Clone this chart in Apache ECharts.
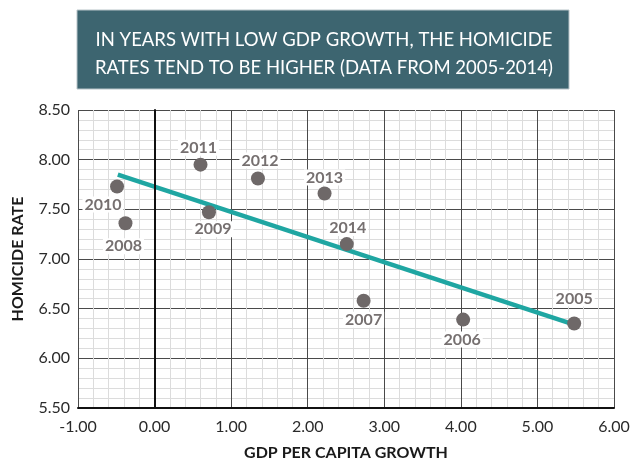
<!DOCTYPE html>
<html>
<head>
<meta charset="utf-8">
<script src="https://cdn.jsdelivr.net/npm/echarts@6/dist/echarts.min.js"></script>
<style>
  html, body { margin: 0; padding: 0; background: #fff; }
  #chart { width: 630px; height: 459px; }
</style>
</head>
<body>
<div id="chart"></div>
<script>
// data
const years = ["2005", "2006", "2007", "2008", "2009", "2010", "2011", "2012", "2013", "2014"];
const gdpGrowth = [5.48, 4.03, 2.73, -0.38, 0.71, -0.49, 0.60, 1.35, 2.22, 2.51];
const homicideRate = [6.35, 6.39, 6.58, 7.36, 7.47, 7.73, 7.95, 7.81, 7.66, 7.15];
const trendX = [-0.48, 5.48];
const trendY = [7.85, 6.34];
const xTicks = { min: -1, max: 6, step: 1 };
const yTicks = { min: 5.5, max: 8.5, step: 0.5 };

// label placement (px offset from point), by year
const labelOffsets = {
  "2005": [0, -25], "2006": [-1, 20], "2007": [0, 19], "2008": [-2, 23],
  "2009": [4, 17], "2010": [-14, 18], "2011": [-2, -17], "2012": [2, -18],
  "2013": [0, -16], "2014": [1, -16]
};

const font = "Lato, 'Noto Sans', sans-serif";

const points = years.map((y, i) => ({
  name: y,
  value: [gdpGrowth[i], homicideRate[i]],
  label: { offset: labelOffsets[y] }
}));

const chart = echarts.init(document.getElementById("chart"));
chart.setOption({
  animation: false,
  textStyle: { fontFamily: font },
  grid: { left: 78, right: 16, top: 110, bottom: 51, containLabel: false, outerBoundsMode: "none" },
  graphic: [
    {
      type: "rect",
      shape: { x: 77, y: 10, width: 492, height: 79 },
      style: { fill: "#3d6570", stroke: "#b8c4c8", lineWidth: 1 }
    },
    {
      type: "text",
      x: 324,
      y: 54,
      style: {
        text: "IN YEARS WITH LOW GDP GROWTH, THE HOMICIDE\nRATES TEND TO BE HIGHER (DATA FROM 2005-2014)",
        fill: "#fff",
        font: "18.5px " + font,
        lineHeight: 28,
        align: "center",
        verticalAlign: "middle"
      }
    }
  ],
  xAxis: {
    type: "value",
    min: xTicks.min,
    max: xTicks.max,
    interval: xTicks.step,
    name: "GDP PER CAPITA GROWTH",
    nameLocation: "middle",
    nameGap: 37,
    nameTextStyle: { fontSize: 16, fontWeight: "bold", color: "#1a1a1a", fontFamily: font },
    axisLine: { show: true, lineStyle: { color: "#111", width: 2 } },
    axisTick: { show: false },
    axisLabel: { fontSize: 16, color: "#2a2a2a", margin: 11, formatter: v => v.toFixed(2) },
    splitLine: { show: true, lineStyle: { color: "#4a4a4a", width: 1 } },
    minorTick: { show: false, splitNumber: 5 },
    minorSplitLine: { show: true, lineStyle: { color: "#dcdcdc", width: 1 } }
  },
  yAxis: {
    type: "value",
    min: yTicks.min,
    max: yTicks.max,
    interval: yTicks.step,
    name: "HOMICIDE RATE",
    nameLocation: "middle",
    nameGap: 52,
    nameTextStyle: { fontSize: 16, fontWeight: "bold", color: "#1a1a1a", fontFamily: font },
    axisLine: { show: true, lineStyle: { color: "#111", width: 2 } },
    axisTick: { show: false },
    axisLabel: { fontSize: 16, color: "#2a2a2a", margin: 8, formatter: v => v.toFixed(2) },
    splitLine: { show: true, lineStyle: { color: "#4a4a4a", width: 1 } },
    minorTick: { show: false, splitNumber: 5 },
    minorSplitLine: { show: true, lineStyle: { color: "#dcdcdc", width: 1 } }
  },
  series: [
    {
      type: "line",
      data: trendX.map((x, i) => [x, trendY[i]]),
      showSymbol: false,
      lineStyle: { color: "#1fa6a2", width: 4.5 },
      z: 3,
      markLine: {
        silent: true,
        symbol: "none",
        label: { show: false },
        lineStyle: { color: "#111", width: 2, type: "solid" },
        data: [{ xAxis: 0 }]
      }
    },
    {
      type: "scatter",
      data: points,
      symbolSize: 14,
      itemStyle: { color: "#6e6868", opacity: 1 },
      z: 4,
      label: {
        show: true,
        position: "inside",
        formatter: p => p.name,
        fontSize: 16,
        fontWeight: "bold",
        color: "#767070",
        backgroundColor: "#fff",
        padding: [0, 2],
        fontFamily: font
      }
    }
  ]
});
</script>
</body>
</html>
